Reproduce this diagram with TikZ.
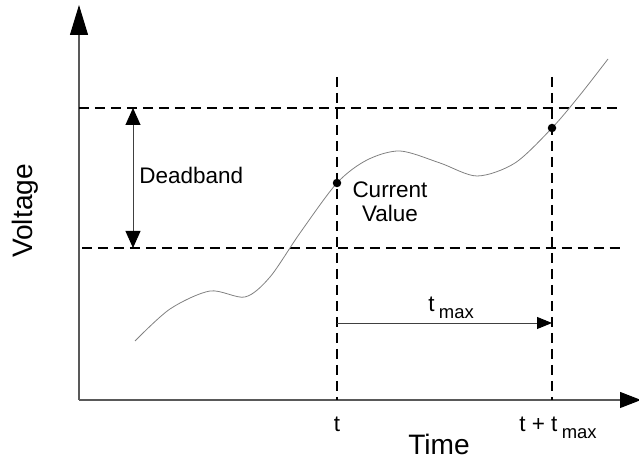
\documentclass[tikz,border=0pt]{standalone}
\usepackage{fontspec}
\setmainfont{Liberation Sans}
\usetikzlibrary{arrows.meta}
\newcommand{\tsub}[1]{\kern2.5pt\raisebox{-0.55ex}{\fontsize{10.5}{12}\selectfont #1}}

\begin{document}
\begin{tikzpicture}[x=0.02cm, y=0.02cm,
    axis/.style={draw=black!65, line width=0.6pt},
    band/.style={draw=black, line width=1.2pt, dash pattern=on 5.7pt off 3.4pt},
    signal/.style={draw=black!50, line width=0.45pt},
    span/.style={draw=black!75, line width=0.5pt},
    sample/.style={circle, fill=black, inner sep=0pt, minimum size=0.17cm},
    lbl/.style={font=\fontsize{12.8}{13.5}\selectfont, inner sep=0pt},
    axislbl/.style={font=\fontsize{16}{18}\selectfont, inner sep=0pt}]
    \useasboundingbox (0,0) rectangle (639,462);

    % Axes
    \coordinate (origin) at (79,62);
    \coordinate (ytop) at (79,457);
    \coordinate (xend) at (641,62);
    \draw[axis, -{Triangle[length=0.6cm,width=0.36cm,color=black]}] (origin) -- (ytop);
    \draw[axis, -{Triangle[length=0.42cm,width=0.32cm,color=black]}] (origin) -- (xend);

    % Deadband limits
    \coordinate (hiL) at (79,354);
    \coordinate (hiR) at (622,354);
    \coordinate (loL) at (82,214);
    \coordinate (loR) at (625,214);
    \draw[band] (hiL) -- (hiR);
    \draw[band] (loL) -- (loR);

    % Sample instants
    \coordinate (tTop) at (337,385);
    \coordinate (tBot) at (337,62);
    \coordinate (ttTop) at (552,385);
    \coordinate (ttBot) at (552,62);
    \draw[band] (tTop) -- (tBot);
    \draw[band] (ttTop) -- (ttBot);

    % Signal
    \draw[signal] plot[smooth] coordinates {(135,121) (170,153) (210,171) (245,165)
        (270,185) (300,229) (337,279) (367,302) (400,311) (440,299) (477,286)
        (515,299) (552,334) (580,367) (608,403)};
    \node[sample] (cur) at (337,279) {};
    \node[sample] (nxt) at (552,334) {};

    % Deadband width
    \coordinate (dbTop) at (133,354);
    \coordinate (dbBot) at (133,214);
    \draw[span, {Triangle[length=0.34cm,width=0.3cm,color=black]}-{Triangle[length=0.34cm,width=0.3cm,color=black]}] (dbTop) -- (dbBot);
    \node[lbl, anchor=west] (deadband) at (139,287) {Deadband};

    % t_max interval
    \coordinate (spanL) at (337,139);
    \coordinate (spanR) at (552,139);
    \draw[span, -{Triangle[length=0.3cm,width=0.24cm,color=black]}] (spanL) -- (spanR);
    \node[lbl, anchor=base] (tmaxlbl) at (451,150) {t\tsub{max}};

    % Labels
    \node[lbl, align=center] (curval) at (390,260) {Current\\Value};
    \node[lbl, anchor=base] (tlbl) at (337,30) {t};
    \node[lbl, anchor=base] (ttlbl) at (558,30) {t + t\tsub{max}};
    \node[axislbl, anchor=base] (timelbl) at (439,7) {Time};
    \node[axislbl, anchor=base, rotate=90] (voltlbl) at (33,251) {Voltage};
\end{tikzpicture}
\end{document}
